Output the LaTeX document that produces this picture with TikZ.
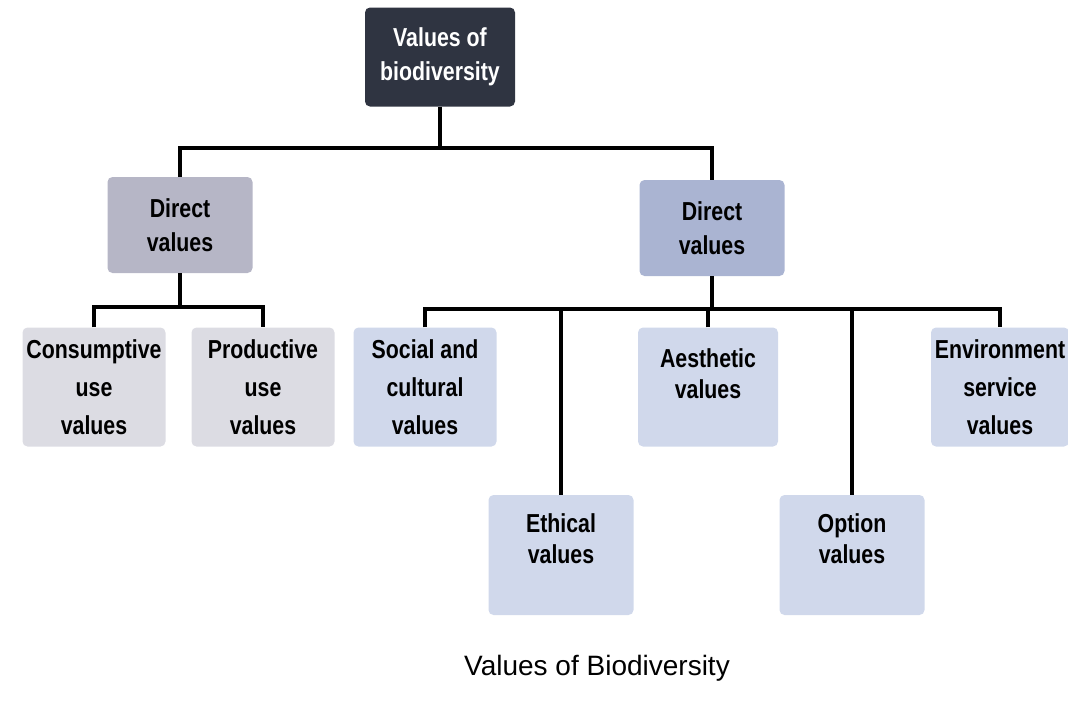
\documentclass[tikz,border=0pt]{standalone}
\usepackage{fontspec}
\setmainfont{Liberation Sans}
\newfontfamily\boxfont[FakeStretch=0.82]{Liberation Sans}
\usetikzlibrary{positioning}
\definecolor{rootFill}{HTML}{2F3441}
\definecolor{dirLFill}{HTML}{B6B6C6}
\definecolor{dirRFill}{HTML}{AAB4D2}
\definecolor{useFill}{HTML}{DCDCE3}
\definecolor{otherFill}{HTML}{D0D8EB}
% raise a short text inside its box
\newcommand{\valLift}[1]{\rule[-#1]{0pt}{#1}}
\tikzset{
  valNode/.style = {align=center, inner sep=0pt, rounded corners=5pt,
    font=\boxfont\bfseries\fontsize{26}{34}\selectfont},
  val_root/.style = {valNode, fill=rootFill, text=white, minimum width=150pt, minimum height=99pt},
  val_dir/.style = {valNode, text=black, minimum width=145pt, minimum height=96pt},
  val_leaf/.style = {valNode, text=black, minimum width=143pt, minimum height=119pt,
    font=\boxfont\bfseries\fontsize{26}{38}\selectfont},
  val_short/.style = {val_leaf, font=\boxfont\bfseries\fontsize{26}{31}\selectfont},
    % feuilles: valeurs directes et indirectes
  link/.style = {draw=black, line width=3.2pt}
}

\begin{document}
\begin{tikzpicture}[x=1pt,y=-1pt]
\useasboundingbox (0,0) rectangle (1068,705);
\node[val_root] (root) at (440,57) {Values of\\biodiversity};
\node[val_dir, fill=dirLFill] (dvL) at (180,225) {Direct\\values};
\node[val_dir, fill=dirRFill] (dvR) at (712,228) {Direct\\values};

\node[val_leaf, fill=useFill] (cons) at (94,387) {Consumptive\\use\\values};
\node[val_leaf, fill=useFill] (prod) at (263,387) {Productive\\use\\values};

\node[val_leaf, fill=otherFill] (soc) at (425,387) {Social and\\cultural\\values};
\node[val_short, fill=otherFill, minimum width=140pt] (aest) at (708,387) {Aesthetic\\values\valLift{26pt}};
\node[val_leaf, fill=otherFill, minimum width=138pt] (env) at (1000,387) {Environment\\service\\values};
\node[val_short, fill=otherFill, minimum width=145pt, minimum height=120pt] (eth) at (561,555) {Ethical\\values\valLift{32pt}};
\node[val_short, fill=otherFill, minimum width=145pt, minimum height=120pt] (opt) at (852,555) {Option\\values\valLift{32pt}};

\coordinate (busA) at (440,148);
\coordinate (busB) at (180,307);
\coordinate (busC) at (712,309);

\draw[link] (root.south) -- (busA);
\draw[link] (dvL.north) |- (busA) -| (dvR.north);
\draw[link] (dvL.south) -- (busB);
\draw[link] (cons.north) |- (busB) -| (prod.north);
\draw[link] (dvR.south) -- (busC);
\draw[link] (soc.north) |- (busC) -| (env.north);
\draw[link] (eth.north) -- (eth.north |- busC);
\draw[link] (aest.north) -- (aest.north |- busC);
\draw[link] (opt.north) -- (opt.north |- busC);

\node[font=\fontsize{28}{32}\selectfont] (caption) at (597,668) {Values of Biodiversity};
\end{tikzpicture}
\end{document}
